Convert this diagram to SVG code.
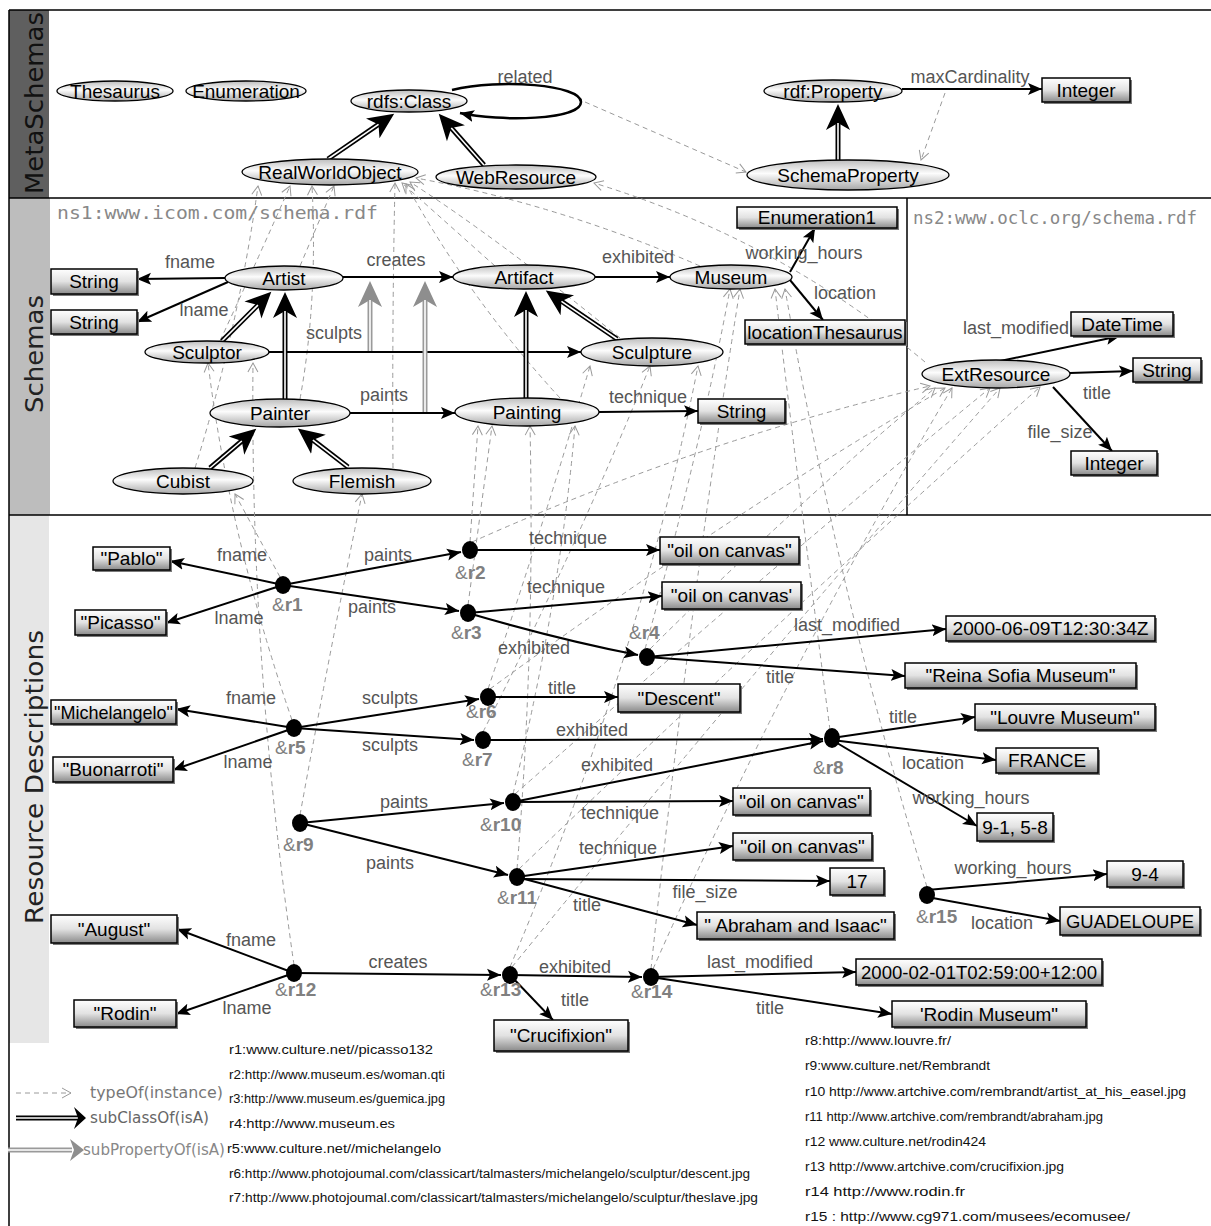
<svg xmlns="http://www.w3.org/2000/svg" width="1211" height="1226" viewBox="0 0 1211 1226">
<defs>
<linearGradient id="eg" x1="0" y1="0" x2="0" y2="1"><stop offset="0" stop-color="#bdbdbd"/><stop offset="0.45" stop-color="#fcfcfc"/><stop offset="1" stop-color="#a6a6a6"/></linearGradient>
<linearGradient id="bg" x1="0" y1="0" x2="0" y2="1"><stop offset="0" stop-color="#ffffff"/><stop offset="0.5" stop-color="#e2e2e2"/><stop offset="1" stop-color="#8a8a8a"/></linearGradient>
<marker id="ah" markerWidth="16" markerHeight="14" refX="14" refY="7" orient="auto" markerUnits="userSpaceOnUse"><path d="M0,1 L14,7 L0,13 L3,7 Z" fill="#000"/></marker>
<marker id="oa" markerWidth="12" markerHeight="12" refX="10" refY="6" orient="auto" markerUnits="userSpaceOnUse"><path d="M1,1 L10,6 L1,11" fill="none" stroke="#9a9a9a" stroke-width="1"/></marker>
<marker id="sc" markerWidth="28" markerHeight="26" refX="7" refY="13" orient="auto" markerUnits="userSpaceOnUse"><path d="M0,1 L26,13 L0,25 L7,13 Z" fill="#000"/></marker>
<marker id="sp" markerWidth="28" markerHeight="26" refX="7" refY="13" orient="auto" markerUnits="userSpaceOnUse"><path d="M0,1 L26,13 L0,25 L7,13 Z" fill="#8e8e8e"/></marker>
</defs>
<style>
.el{fill:url(#eg);stroke:#000;stroke-width:1.3}
.bx{fill:url(#bg);stroke:#000;stroke-width:1.5}
.sh{fill:#7a7a7a}
.dot{fill:#000}
text{font-family:"Liberation Sans",Arial,sans-serif}
.nt{font-size:19px;fill:#000;text-anchor:middle}
.lb{font-size:18px;fill:#555;text-anchor:middle}
.rf{font-size:19px;fill:#808080}
.url{font-size:12px;fill:#111}
.pe{stroke:#000;stroke-width:2;fill:none;marker-end:url(#ah)}
.ty{stroke:#9a9a9a;stroke-width:1;stroke-dasharray:5 4;fill:none;marker-end:url(#oa)}
.s1{stroke:#000;stroke-width:5;fill:none;marker-end:url(#sc)}
.s2{stroke:#fff;stroke-width:1.6;fill:none}
.p1{stroke:#9a9a9a;stroke-width:5;fill:none;marker-end:url(#sp)}
.p2{stroke:#fff;stroke-width:1.6;fill:none}
.ns{font-family:"DejaVu Sans Mono",monospace;font-size:18px;fill:#888}
.band{font-family:"DejaVu Sans",sans-serif;font-size:25px;text-anchor:middle}
.leg{font-family:"DejaVu Sans",sans-serif;font-size:15px}
</style>
<rect x="0" y="0" width="1211" height="1226" fill="#fff"/>
<g id="bands">
<rect x="9" y="10" width="40" height="188" fill="#5f5f5f"/>
<rect x="9" y="198" width="41" height="317" fill="#bdbdbd"/>
<rect x="9" y="515" width="40" height="528" fill="#e6e6e6"/>
<text class="band" transform="translate(43,103) rotate(-90)" fill="#111" textLength="182" lengthAdjust="spacingAndGlyphs">MetaSchemas</text>
<text class="band" transform="translate(43,354) rotate(-90)" fill="#222" textLength="118" lengthAdjust="spacingAndGlyphs">Schemas</text>
<text class="band" transform="translate(43,777) rotate(-90)" fill="#222" textLength="294" lengthAdjust="spacingAndGlyphs">Resource Descriptions</text>
<path d="M9,10 H1211 M9,10 V1226 M9,198 H1211 M9,515 H1211 M907,198 V515" stroke="#000" stroke-width="1.5" fill="none"/>
<text class="ns" x="57" y="219" textLength="321" lengthAdjust="spacingAndGlyphs">ns1:www.icom.com/schema.rdf</text>
<text class="ns" x="913" y="224" textLength="284" lengthAdjust="spacingAndGlyphs">ns2:www.oclc.org/schema.rdf</text>
</g>
<g id="connectors">
<path class="ty" d="M585,102 L746,172"/>
<path class="ty" d="M945,93 L921,160"/>
<path class="ty" d="M195,468 Q238,330 258,186"/>
<path class="ty" d="M220,341 Q262,250 290,186"/>
<path class="ty" d="M300,399 Q318,300 312,186"/>
<path class="ty" d="M300,266 L334,186"/>
<path class="ty" d="M393,468 Q392,320 395,183"/>
<path class="ty" d="M495,266 L402,183"/>
<path class="ty" d="M620,338 Q500,240 410,182"/>
<path class="ty" d="M700,266 Q560,205 416,178"/>
<path class="ty" d="M560,398 Q470,300 406,184"/>
<path class="ty" d="M925,362 Q780,240 594,183"/>
<path class="ty" d="M280,577 L235,494"/>
<path class="ty" d="M470,542 L478,426"/>
<path class="ty" d="M468,605 L492,426"/>
<path class="ty" d="M645,649 Q700,450 730,289"/>
<path class="ty" d="M650,649 Q800,500 935,388"/>
<path class="ty" d="M292,720 Q230,540 208,363"/>
<path class="ty" d="M488,689 Q545,520 590,366"/>
<path class="ty" d="M490,689 Q720,520 945,388"/>
<path class="ty" d="M483,732 Q580,540 650,366"/>
<path class="ty" d="M830,730 Q800,500 775,289"/>
<path class="ty" d="M300,815 Q330,650 362,494"/>
<path class="ty" d="M513,794 Q560,600 575,426"/>
<path class="ty" d="M515,794 Q780,560 990,388"/>
<path class="ty" d="M517,869 Q535,650 530,426"/>
<path class="ty" d="M519,869 Q800,600 1040,387"/>
<path class="ty" d="M294,965 Q250,660 253,363"/>
<path class="ty" d="M510,967 Q640,660 698,366"/>
<path class="ty" d="M512,967 Q770,650 1000,388"/>
<path class="ty" d="M651,969 Q690,600 740,289"/>
<path class="ty" d="M653,969 Q790,660 952,388"/>
<path class="ty" d="M927,887 Q840,600 785,289"/>
<path class="ty" d="M472,542 Q700,440 930,386"/>
<path class="pe" d="M902,89 L1042,89"/>
<path d="M452,90 C500,78 581,85 581,102 C581,120 500,122 460,113" stroke="#000" stroke-width="2.5" fill="none" marker-end="url(#ah)"/>
<path class="pe" d="M225,278 L137,279"/>
<path class="pe" d="M228,282 L137,322"/>
<path class="pe" d="M343,277 L453,277"/>
<path class="pe" d="M269,352 L581,352"/>
<path class="pe" d="M350,413 L455,413"/>
<path class="pe" d="M595,277 L670,277"/>
<path class="pe" d="M790,272 L815,228"/>
<path class="pe" d="M790,280 L823,320"/>
<path class="pe" d="M599,412 L698,411"/>
<path class="pe" d="M1000,361 L1120,336"/>
<path class="pe" d="M1070,373 L1133,371"/>
<path class="pe" d="M1053,387 L1112,451"/>
<path class="pe" d="M283,585 L170,561"/>
<path class="pe" d="M283,585 L166,623"/>
<path class="pe" d="M283,585 L461,552"/>
<path class="pe" d="M283,585 L459,611"/>
<path class="pe" d="M470,550 L660,550"/>
<path class="pe" d="M468,613 L662,596"/>
<path class="pe" d="M468,613 Q560,640 638,655"/>
<path class="pe" d="M647,657 L946,629"/>
<path class="pe" d="M647,657 L905,676"/>
<path class="pe" d="M294,728 L176,709"/>
<path class="pe" d="M294,728 L173,770"/>
<path class="pe" d="M294,728 L479,699"/>
<path class="pe" d="M294,728 L474,740"/>
<path class="pe" d="M488,697 L618,697"/>
<path class="pe" d="M483,740 L823,739"/>
<path class="pe" d="M513,802 L823,741"/>
<path class="pe" d="M832,738 L975,717"/>
<path class="pe" d="M832,740 L996,760"/>
<path class="pe" d="M832,740 L977,826"/>
<path class="pe" d="M300,823 L504,803"/>
<path class="pe" d="M300,823 L508,875"/>
<path class="pe" d="M513,802 L733,801"/>
<path class="pe" d="M517,877 L733,846"/>
<path class="pe" d="M517,879 L830,881"/>
<path class="pe" d="M517,877 L697,925"/>
<path class="pe" d="M927,890 L1107,874"/>
<path class="pe" d="M927,897 L1060,921"/>
<path class="pe" d="M294,973 L177,929"/>
<path class="pe" d="M294,973 L176,1014"/>
<path class="pe" d="M294,973 L501,975"/>
<path class="pe" d="M510,975 L553,1020"/>
<path class="pe" d="M510,975 L642,977"/>
<path class="pe" d="M651,977 L856,972"/>
<path class="pe" d="M651,977 L892,1014"/>
<path class="s1" d="M328,159 L378.5,124.4"/><path class="s2" d="M328,159 L378.5,124.4"/>
<path class="s1" d="M484,165 L451.3,128"/><path class="s2" d="M484,165 L451.3,128"/>
<path class="s1" d="M838,160 L838,123"/><path class="s2" d="M838,160 L838,123"/>
<path class="s1" d="M222,341 L257.9,305.1"/><path class="s2" d="M222,341 L257.9,305.1"/>
<path class="s1" d="M285,399 L285,311"/><path class="s2" d="M285,399 L285,311"/>
<path class="s1" d="M210,468 L241.8,441"/><path class="s2" d="M210,468 L241.8,441"/>
<path class="s1" d="M348,467 L312.9,440.1"/><path class="s2" d="M348,467 L312.9,440.1"/>
<path class="s1" d="M526,398 L526,310"/><path class="s2" d="M526,398 L526,310"/>
<path class="s1" d="M617,339 L561.5,301.3"/><path class="s2" d="M617,339 L561.5,301.3"/>
<path class="p1" d="M370,351 L370,300"/><path class="p2" d="M370,351 L370,300"/>
<path class="p1" d="M425,412 L425,300"/><path class="p2" d="M425,412 L425,300"/>
<text class="lb" x="525" y="83">related</text>
<text class="lb" x="970" y="83">maxCardinality</text>
<text class="lb" x="190" y="268">fname</text>
<text class="lb" x="204" y="316">lname</text>
<text class="lb" x="396" y="266">creates</text>
<text class="lb" x="334" y="339">sculpts</text>
<text class="lb" x="384" y="401">paints</text>
<text class="lb" x="638" y="263">exhibited</text>
<text class="lb" x="804" y="259">working_hours</text>
<text class="lb" x="845" y="299">location</text>
<text class="lb" x="648" y="403">technique</text>
<text class="lb" x="1016" y="334">last_modified</text>
<text class="lb" x="1097" y="399">title</text>
<text class="lb" x="1060" y="438">file_size</text>
<text class="lb" x="242" y="561">fname</text>
<text class="lb" x="239" y="624">lname</text>
<text class="lb" x="388" y="561">paints</text>
<text class="lb" x="372" y="613">paints</text>
<text class="lb" x="568" y="544">technique</text>
<text class="lb" x="566" y="593">technique</text>
<text class="lb" x="534" y="654">exhibited</text>
<text class="lb" x="847" y="631">last_modified</text>
<text class="lb" x="780" y="683">title</text>
<text class="lb" x="251" y="704">fname</text>
<text class="lb" x="248" y="768">lname</text>
<text class="lb" x="390" y="704">sculpts</text>
<text class="lb" x="390" y="751">sculpts</text>
<text class="lb" x="562" y="694">title</text>
<text class="lb" x="592" y="736">exhibited</text>
<text class="lb" x="617" y="771">exhibited</text>
<text class="lb" x="620" y="819">technique</text>
<text class="lb" x="618" y="854">technique</text>
<text class="lb" x="705" y="898">file_size</text>
<text class="lb" x="587" y="911">title</text>
<text class="lb" x="404" y="808">paints</text>
<text class="lb" x="390" y="869">paints</text>
<text class="lb" x="903" y="723">title</text>
<text class="lb" x="933" y="769">location</text>
<text class="lb" x="971" y="804">working_hours</text>
<text class="lb" x="1013" y="874">working_hours</text>
<text class="lb" x="1002" y="929">location</text>
<text class="lb" x="251" y="946">fname</text>
<text class="lb" x="247" y="1014">lname</text>
<text class="lb" x="398" y="968">creates</text>
<text class="lb" x="575" y="1006">title</text>
<text class="lb" x="575" y="973">exhibited</text>
<text class="lb" x="760" y="968">last_modified</text>
<text class="lb" x="770" y="1014">title</text>
</g>
<g id="n-thesaurus"><ellipse class="el" cx="115" cy="91" rx="58" ry="10"/><text class="nt" x="115" y="97.5">Thesaurus</text></g>
<g id="n-enumeration"><ellipse class="el" cx="246" cy="91" rx="60" ry="10"/><text class="nt" x="246" y="97.5">Enumeration</text></g>
<g id="n-rdfsclass"><ellipse class="el" cx="409" cy="101" rx="58" ry="11"/><text class="nt" x="409" y="107.5">rdfs:Class</text></g>
<g id="n-realworldobject"><ellipse class="el" cx="330" cy="172" rx="88" ry="13"/><text class="nt" x="330" y="178.5">RealWorldObject</text></g>
<g id="n-webresource"><ellipse class="el" cx="516" cy="177" rx="80" ry="12"/><text class="nt" x="516" y="183.5">WebResource</text></g>
<g id="n-rdfproperty"><ellipse class="el" cx="833" cy="91" rx="69" ry="11"/><text class="nt" x="833" y="97.5">rdf:Property</text></g>
<g id="n-integer-meta"><rect class="sh" x="1044" y="80" width="88" height="24"/><rect class="bx" x="1042" y="78" width="88" height="24"/><text class="nt" x="1086" y="96.5">Integer</text></g>
<g id="n-schemaproperty"><ellipse class="el" cx="848" cy="175" rx="101" ry="15"/><text class="nt" x="848" y="181.5">SchemaProperty</text></g>
<g id="n-string-fname"><rect class="sh" x="53" y="271" width="86" height="25"/><rect class="bx" x="51" y="269" width="86" height="25"/><text class="nt" x="94" y="288">String</text></g>
<g id="n-string-lname"><rect class="sh" x="53" y="312" width="86" height="24"/><rect class="bx" x="51" y="310" width="86" height="24"/><text class="nt" x="94" y="328.5">String</text></g>
<g id="n-artist"><ellipse class="el" cx="284" cy="278" rx="59" ry="12"/><text class="nt" x="284" y="284.5">Artist</text></g>
<g id="n-sculptor"><ellipse class="el" cx="207" cy="352" rx="62" ry="11"/><text class="nt" x="207" y="358.5">Sculptor</text></g>
<g id="n-painter"><ellipse class="el" cx="280" cy="413" rx="70" ry="14"/><text class="nt" x="280" y="419.5">Painter</text></g>
<g id="n-cubist"><ellipse class="el" cx="183" cy="481" rx="70" ry="13"/><text class="nt" x="183" y="487.5">Cubist</text></g>
<g id="n-flemish"><ellipse class="el" cx="362" cy="481" rx="69" ry="13"/><text class="nt" x="362" y="487.5">Flemish</text></g>
<g id="n-artifact"><ellipse class="el" cx="524" cy="277" rx="71" ry="12"/><text class="nt" x="524" y="283.5">Artifact</text></g>
<g id="n-museum"><ellipse class="el" cx="731" cy="277" rx="61" ry="12"/><text class="nt" x="731" y="283.5">Museum</text></g>
<g id="n-sculpture"><ellipse class="el" cx="652" cy="352" rx="71" ry="14"/><text class="nt" x="652" y="358.5">Sculpture</text></g>
<g id="n-painting"><ellipse class="el" cx="527" cy="412" rx="72" ry="14"/><text class="nt" x="527" y="418.5">Painting</text></g>
<g id="n-string-technique"><rect class="sh" x="700" y="401" width="87" height="24"/><rect class="bx" x="698" y="399" width="87" height="24"/><text class="nt" x="741.5" y="417.5">String</text></g>
<g id="n-enumeration1"><rect class="sh" x="739" y="209" width="160" height="21"/><rect class="bx" x="737" y="207" width="160" height="21"/><text class="nt" x="817" y="224">Enumeration1</text></g>
<g id="n-locationthesaurus"><rect class="sh" x="747" y="322" width="160" height="24"/><rect class="bx" x="745" y="320" width="160" height="24"/><text class="nt" x="825" y="338.5">locationThesaurus</text></g>
<g id="n-extresource"><ellipse class="el" cx="996" cy="374" rx="74" ry="14"/><text class="nt" x="996" y="380.5">ExtResource</text></g>
<g id="n-datetime"><rect class="sh" x="1073" y="314" width="102" height="24"/><rect class="bx" x="1071" y="312" width="102" height="24"/><text class="nt" x="1122" y="330.5">DateTime</text></g>
<g id="n-string-title"><rect class="sh" x="1135" y="360" width="68" height="24"/><rect class="bx" x="1133" y="358" width="68" height="24"/><text class="nt" x="1167" y="376.5">String</text></g>
<g id="n-integer-filesize"><rect class="sh" x="1073" y="453" width="86" height="24"/><rect class="bx" x="1071" y="451" width="86" height="24"/><text class="nt" x="1114" y="469.5">Integer</text></g>
<g id="n-pablo"><rect class="sh" x="95" y="549" width="77" height="23"/><rect class="bx" x="93" y="547" width="77" height="23"/><text class="nt" x="131.5" y="565">"Pablo"</text></g>
<g id="n-picasso"><rect class="sh" x="77" y="612" width="91" height="25"/><rect class="bx" x="75" y="610" width="91" height="25"/><text class="nt" x="120.5" y="629">"Picasso"</text></g>
<g id="n-r1"><ellipse class="dot" cx="283" cy="585" rx="8" ry="9"/><text class="rf" x="272" y="611">&amp;<tspan font-weight="bold">r1</tspan></text></g>
<g id="n-r2"><ellipse class="dot" cx="470" cy="550" rx="8" ry="9"/><text class="rf" x="455" y="579">&amp;<tspan font-weight="bold">r2</tspan></text></g>
<g id="n-r3"><ellipse class="dot" cx="468" cy="613" rx="8" ry="9"/><text class="rf" x="451" y="639">&amp;<tspan font-weight="bold">r3</tspan></text></g>
<g id="n-oil1"><rect class="sh" x="662" y="539" width="139" height="27"/><rect class="bx" x="660" y="537" width="139" height="27"/><text class="nt" x="729.5" y="557">"oil on canvas"</text></g>
<g id="n-oil2"><rect class="sh" x="664" y="584" width="139" height="27"/><rect class="bx" x="662" y="582" width="139" height="27"/><text class="nt" x="731.5" y="602">"oil on canvas'</text></g>
<g id="n-r4"><ellipse class="dot" cx="647" cy="657" rx="8" ry="9"/><text class="rf" x="629" y="639">&amp;<tspan font-weight="bold">r4</tspan></text></g>
<g id="n-date1"><rect class="sh" x="948" y="618" width="209" height="25"/><rect class="bx" x="946" y="616" width="209" height="25"/><text class="nt" x="1050.5" y="635" textLength="196" lengthAdjust="spacingAndGlyphs">2000-06-09T12:30:34Z</text></g>
<g id="n-reina"><rect class="sh" x="907" y="665" width="231" height="25"/><rect class="bx" x="905" y="663" width="231" height="25"/><text class="nt" x="1020.5" y="682">"Reina Sofia Museum"</text></g>
<g id="n-michelangelo"><rect class="sh" x="53" y="702" width="125" height="24"/><rect class="bx" x="51" y="700" width="125" height="24"/><text class="nt" x="113.5" y="718.5" textLength="119" lengthAdjust="spacingAndGlyphs">"Michelangelo"</text></g>
<g id="n-r5"><ellipse class="dot" cx="294" cy="728" rx="8" ry="9"/><text class="rf" x="275" y="754">&amp;<tspan font-weight="bold">r5</tspan></text></g>
<g id="n-r6"><ellipse class="dot" cx="488" cy="697" rx="8" ry="9"/><text class="rf" x="466" y="718">&amp;<tspan font-weight="bold">r6</tspan></text></g>
<g id="n-r7"><ellipse class="dot" cx="483" cy="740" rx="8" ry="9"/><text class="rf" x="462" y="766">&amp;<tspan font-weight="bold">r7</tspan></text></g>
<g id="n-descent"><rect class="sh" x="620" y="686" width="122" height="28"/><rect class="bx" x="618" y="684" width="122" height="28"/><text class="nt" x="679" y="704.5">"Descent"</text></g>
<g id="n-buonarroti"><rect class="sh" x="55" y="759" width="120" height="25"/><rect class="bx" x="53" y="757" width="120" height="25"/><text class="nt" x="113" y="776">"Buonarroti"</text></g>
<g id="n-r8"><ellipse class="dot" cx="832" cy="738" rx="8" ry="10"/><text class="rf" x="813" y="774">&amp;<tspan font-weight="bold">r8</tspan></text></g>
<g id="n-louvre"><rect class="sh" x="977" y="706" width="180" height="26"/><rect class="bx" x="975" y="704" width="180" height="26"/><text class="nt" x="1065" y="723.5">"Louvre Museum"</text></g>
<g id="n-france"><rect class="sh" x="998" y="750" width="102" height="25"/><rect class="bx" x="996" y="748" width="102" height="25"/><text class="nt" x="1047" y="767">FRANCE</text></g>
<g id="n-hours1"><rect class="sh" x="979" y="815" width="76" height="28"/><rect class="bx" x="977" y="813" width="76" height="28"/><text class="nt" x="1015" y="833.5">9-1, 5-8</text></g>
<g id="n-r9"><ellipse class="dot" cx="300" cy="823" rx="8" ry="9"/><text class="rf" x="283" y="851">&amp;<tspan font-weight="bold">r9</tspan></text></g>
<g id="n-r10"><ellipse class="dot" cx="513" cy="802" rx="8" ry="9"/><text class="rf" x="480" y="831">&amp;<tspan font-weight="bold">r10</tspan></text></g>
<g id="n-oil3"><rect class="sh" x="735" y="790" width="137" height="27"/><rect class="bx" x="733" y="788" width="137" height="27"/><text class="nt" x="801.5" y="808">"oil on canvas"</text></g>
<g id="n-r11"><ellipse class="dot" cx="517" cy="877" rx="8" ry="9"/><text class="rf" x="497" y="904">&amp;<tspan font-weight="bold">r11</tspan></text></g>
<g id="n-oil4"><rect class="sh" x="735" y="835" width="139" height="27"/><rect class="bx" x="733" y="833" width="139" height="27"/><text class="nt" x="802.5" y="853">"oil on canvas"</text></g>
<g id="n-17"><rect class="sh" x="832" y="870" width="54" height="27"/><rect class="bx" x="830" y="868" width="54" height="27"/><text class="nt" x="857" y="888">17</text></g>
<g id="n-abraham"><rect class="sh" x="699" y="914" width="197" height="27"/><rect class="bx" x="697" y="912" width="197" height="27"/><text class="nt" x="795.5" y="932">" Abraham and Isaac"</text></g>
<g id="n-r15"><ellipse class="dot" cx="927" cy="895" rx="8" ry="9"/><text class="rf" x="916" y="923">&amp;<tspan font-weight="bold">r15</tspan></text></g>
<g id="n-hours2"><rect class="sh" x="1109" y="863" width="76" height="26"/><rect class="bx" x="1107" y="861" width="76" height="26"/><text class="nt" x="1145" y="880.5">9-4</text></g>
<g id="n-guadeloupe"><rect class="sh" x="1062" y="909" width="140" height="28"/><rect class="bx" x="1060" y="907" width="140" height="28"/><text class="nt" x="1130" y="927.5" textLength="128" lengthAdjust="spacingAndGlyphs">GUADELOUPE</text></g>
<g id="n-august"><rect class="sh" x="53" y="917" width="126" height="28"/><rect class="bx" x="51" y="915" width="126" height="28"/><text class="nt" x="114" y="935.5">"August"</text></g>
<g id="n-rodin"><rect class="sh" x="76" y="1002" width="102" height="27"/><rect class="bx" x="74" y="1000" width="102" height="27"/><text class="nt" x="125" y="1020">"Rodin"</text></g>
<g id="n-r12"><ellipse class="dot" cx="294" cy="973" rx="8" ry="9"/><text class="rf" x="275" y="996">&amp;<tspan font-weight="bold">r12</tspan></text></g>
<g id="n-r13"><ellipse class="dot" cx="510" cy="975" rx="8" ry="9"/><text class="rf" x="480" y="996">&amp;<tspan font-weight="bold">r13</tspan></text></g>
<g id="n-crucifixion"><rect class="sh" x="496" y="1022" width="134" height="31"/><rect class="bx" x="494" y="1020" width="134" height="31"/><text class="nt" x="561" y="1042">"Crucifixion"</text></g>
<g id="n-r14"><ellipse class="dot" cx="651" cy="977" rx="8" ry="9"/><text class="rf" x="631" y="998">&amp;<tspan font-weight="bold">r14</tspan></text></g>
<g id="n-date2"><rect class="sh" x="858" y="961" width="246" height="26"/><rect class="bx" x="856" y="959" width="246" height="26"/><text class="nt" x="979" y="978.5" textLength="236" lengthAdjust="spacingAndGlyphs">2000-02-01T02:59:00+12:00</text></g>
<g id="n-rodinmuseum"><rect class="sh" x="894" y="1003" width="194" height="26"/><rect class="bx" x="892" y="1001" width="194" height="26"/><text class="nt" x="989" y="1020.5">'Rodin Museum"</text></g>
<g id="legend">
<path d="M16,1093 L71,1093" stroke="#9a9a9a" stroke-width="1" stroke-dasharray="5 4" fill="none" marker-end="url(#oa)"/>
<text class="leg" x="90" y="1098" fill="#777" textLength="133" lengthAdjust="spacingAndGlyphs">typeOf(instance)</text>
<path d="M16,1118 L78,1118" stroke="#000" stroke-width="5" fill="none"/><path d="M16,1118 L78,1118" stroke="#fff" stroke-width="1.6" fill="none"/>
<path d="M74,1107 L86,1118 L74,1129 L78,1118 Z" fill="#000"/>
<text class="leg" x="90" y="1123" fill="#666" textLength="119" lengthAdjust="spacingAndGlyphs">subClassOf(isA)</text>
<path d="M8,1150 L72,1150" stroke="#9a9a9a" stroke-width="5" fill="none"/><path d="M8,1150 L72,1150" stroke="#fff" stroke-width="1.6" fill="none"/>
<path d="M70,1139 L84,1150 L70,1161 L74,1150 Z" fill="#8e8e8e"/>
<text class="leg" x="83" y="1155" fill="#888" textLength="142" lengthAdjust="spacingAndGlyphs">subPropertyOf(isA)</text>
</g>
<g id="urls">
<text class="url" x="229" y="1054" textLength="204" lengthAdjust="spacingAndGlyphs">r1:www.culture.net//picasso132</text>
<text class="url" x="229" y="1079" textLength="216" lengthAdjust="spacingAndGlyphs">r2:http://www.museum.es/woman.qti</text>
<text class="url" x="229" y="1103" textLength="216" lengthAdjust="spacingAndGlyphs">r3:http://www.museum.es/guemica.jpg</text>
<text class="url" x="229" y="1128" textLength="166" lengthAdjust="spacingAndGlyphs">r4:http://www.museum.es</text>
<text class="url" x="227" y="1153" textLength="214" lengthAdjust="spacingAndGlyphs">r5:www.culture.net//michelangelo</text>
<text class="url" x="229" y="1178" textLength="521" lengthAdjust="spacingAndGlyphs">r6:http://www.photojoumal.com/classicart/talmasters/michelangelo/sculptur/descent.jpg</text>
<text class="url" x="229" y="1202" textLength="529" lengthAdjust="spacingAndGlyphs">r7:http://www.photojoumal.com/classicart/talmasters/michelangelo/sculptur/theslave.jpg</text>
<text class="url" x="805" y="1045" textLength="146" lengthAdjust="spacingAndGlyphs">r8:http://www.louvre.fr/</text>
<text class="url" x="805" y="1070" textLength="185" lengthAdjust="spacingAndGlyphs">r9:www.culture.net/Rembrandt</text>
<text class="url" x="805" y="1096" textLength="381" lengthAdjust="spacingAndGlyphs">r10 http://www.artchive.com/rembrandt/artist_at_his_easel.jpg</text>
<text class="url" x="805" y="1121" textLength="298" lengthAdjust="spacingAndGlyphs">r11 http://www.artchive.com/rembrandt/abraham.jpg</text>
<text class="url" x="805" y="1146" textLength="181" lengthAdjust="spacingAndGlyphs">r12 www.culture.net/rodin424</text>
<text class="url" x="805" y="1171" textLength="259" lengthAdjust="spacingAndGlyphs">r13 http://www.artchive.com/crucifixion.jpg</text>
<text class="url" x="805" y="1196" textLength="160" lengthAdjust="spacingAndGlyphs">r14 http://www.rodin.fr</text>
<text class="url" x="805" y="1221" textLength="325" lengthAdjust="spacingAndGlyphs">r15 :  http://www.cg971.com/musees/ecomusee/</text>
</g>
</svg>
